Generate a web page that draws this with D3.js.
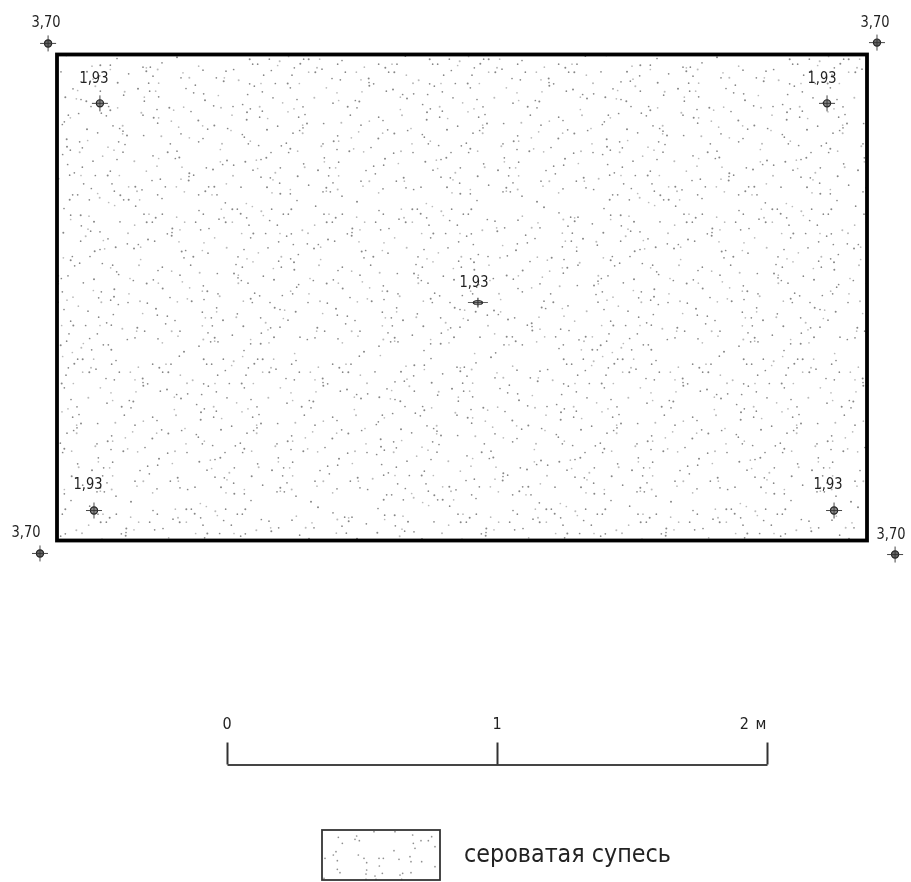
<!DOCTYPE html>
<html><head><meta charset="utf-8">
<script src="https://cdnjs.cloudflare.com/ajax/libs/d3/7.9.0/d3.min.js"></script>
<style>html,body{margin:0;background:#fff}svg{display:block}
text{font-family:"Liberation Sans Narrow","DejaVu Sans Condensed",sans-serif;fill:#222}</style>
</head><body><div id="c"></div>
<script>
// Site plan, metres from the top-left corner of the pit
const pitSize = [3, 1.8];
const outerX = [-0.033, 3.037, -0.063, 3.104];
const outerY = [-0.041, -0.044, 1.848, 1.852];
const outerLevel = ["3,70", "3,70", "3,70", "3,70"];
const innerX = [0.159, 2.852, 1.559, 0.137, 2.878];
const innerY = [0.181, 0.181, 0.919, 1.689, 1.689];
const innerLevel = ["1,93", "1,93", "1,93", "1,93", "1,93"];
const scaleTicks = [0, 1, 2];
const scaleLabels = ["0", "1", "2 м"];
const legendLabel = "сероватая супесь";

// Stipple read from a sample of the soil hatch (crop units)
const specks = [[38,14],[97,14],[155,6],[200,14],[215,14],[248,14],[315,18],[505,5],[128,20],[47,29],[62,29],[122,33],[190,28],[302,29],[382,38],[425,29],[445,40],[465,29],[480,29],[172,40],[240,40],[255,44],[103,48],[215,53],[235,53],[325,53],[358,53],[455,53],[472,53],[508,62],[80,62],[165,62],[5,77],[285,72],[310,76],[372,76],[395,72],[38,88],[72,87],[115,87],[152,87],[187,87],[396,84],[410,88],[528,86],[52,95],[160,100],[268,100],[397,94],[76,112],[375,112],[448,110],[468,105],[300,115],[32,120],[108,130],[232,130],[180,135],[497,120],[490,128],[510,132],[530,118],[305,138],[355,138],[367,141],[137,145],[288,146],[17,150],[68,157],[198,157],[40,163],[171,163],[332,157],[360,160],[490,165],[76,170],[30,173],[153,172],[204,180],[340,182],[495,182],[68,188],[185,188],[92,192],[29,196],[425,188],[397,200],[438,198],[210,207],[197,212],[122,215],[260,207],[313,205],[372,212],[198,220],[522,222],[90,226],[188,228],[365,232],[452,226],[472,237],[437,236],[512,228],[168,236],[197,236],[16,240],[22,248],[343,250],[424,252],[302,244],[40,260],[34,268],[290,260],[305,260],[148,266],[258,268],[253,275],[65,273],[133,274],[525,268],[160,283],[155,294],[182,290],[300,285],[337,290],[350,283],[402,279],[470,296],[492,290],[528,294],[102,294],[380,292],[88,310],[72,315],[58,317],[262,310],[25,322],[262,322],[305,323],[200,328],[203,338],[410,335],[440,332],[484,327],[444,313],[130,340],[62,342],[48,347],[243,347],[296,340],[278,340],[387,348],[115,355],[72,368],[100,370],[108,376],[182,365],[275,364],[305,364],[415,358],[500,370],[502,380],[372,380],[478,380],[397,380],[128,386],[288,385],[378,395],[90,398],[12,398],[160,405],[215,392],[268,400],[268,410],[258,412],[280,412],[302,405],[438,403],[507,400],[105,415],[130,418],[160,418],[425,415],[180,438],[360,442],[28,447],[530,405],[315,425]];
const legendSpecks = [[85,52],[97,70],[135,58],[140,48],[148,62],[192,35],[255,35],[308,45],[310,70],[315,85],[333,62],[355,62],[365,50],[375,80],[78,95],[70,105],[145,105],[162,115],[82,122],[170,128],[207,115],[220,115],[267,118],[300,110],[303,125],[252,92],[335,125],[208,138],[170,150],[82,148],[90,158],[168,162],[195,168],[217,160],[270,165],[278,160],[303,158],[375,140],[42,175],[45,115],[275,178],[168,178],[198,178]];

const W = 911, H = 882;
const svg = d3.select("#c").append("svg").attr("width", W).attr("height", H);
const defs = svg.append("defs");
defs.append("filter").attr("id","soft").attr("x","-5%").attr("y","-5%").attr("width","110%").attr("height","110%")
  .append("feGaussianBlur").attr("stdDeviation",0.7);
const root = svg.append("g").attr("filter","url(#soft)");

const x = d3.scaleLinear().domain([0, pitSize[0]]).range([57, 867]);
const y = d3.scaleLinear().domain([0, pitSize[1]]).range([54.5, 540.5]);

// hatch: sample tile repeated in offset rows so seams do not line up
const tileX = d3.scaleLinear().domain([0,540]).range([0,180]);
const tileY = d3.scaleLinear().domain([0,450]).range([0,150]);
defs.append("clipPath").attr("id","pit").append("rect")
  .attr("x",x(0)).attr("y",y(0)).attr("width",x(pitSize[0])-x(0)).attr("height",y(pitSize[1])-y(0));
const hatch = root.append("g").attr("clip-path","url(#pit)");
d3.range(-2,6).forEach(i => d3.range(4).forEach(j => {
  const fx = j%2===1, fy = (i+j)%3===0;
  const ox = x(0) + i*180 + j*67, oy = y(0) + j*150;
  hatch.append("g").selectAll("circle").data(specks).join("circle")
    .attr("cx", d => ox + (fx ? 180 - tileX(d[0]) : tileX(d[0])))
    .attr("cy", d => oy + (fy ? 150 - tileY(d[1]) : tileY(d[1])))
    .attr("r", (d,k) => k%4===0 ? 1.0 : 0.85)
    .attr("fill", "#555").attr("opacity", (d,k) => k%3===2 ? 0.4 : 0.7);
}));

root.append("rect").attr("x",x(0)).attr("y",y(0))
  .attr("width",x(pitSize[0])-x(0)).attr("height",y(pitSize[1])-y(0))
  .attr("fill","none").attr("stroke","#000").attr("stroke-width",3.8);

function marker(g, fill) {
  g.append("circle").attr("r",3.6).attr("fill",fill).attr("stroke","#222").attr("stroke-width",1.2);
  g.append("path").attr("d","M-8,0H8M0,-8V8").attr("stroke","#333").attr("stroke-width",0.9);
}
const outer = outerX.map((v,i)=>({x:v,y:outerY[i],t:outerLevel[i]}));
const inner = innerX.map((v,i)=>({x:v,y:innerY[i],t:innerLevel[i]}));
const outerLabelDx = [-2,-2,-14,-4], outerLabelDy = [-16,-16,-16,-16];
const innerLabelDx = [-6,-5,-4,-6,-6], innerLabelDy = [-20,-20,-16,-22,-22];

root.selectAll("g.o").data(outer).join("g").attr("class","o")
  .attr("transform",d=>`translate(${x(d.x)},${y(d.y)})`)
  .each(function(){ marker(d3.select(this),"#666"); });
root.selectAll("g.i").data(inner).join("g").attr("class","i")
  .attr("transform",(d,i)=>`translate(${x(d.x)},${y(d.y)})`+(i===2?" scale(1.25,.62)":""))
  .each(function(){ marker(d3.select(this),"#888"); });
const label = (data,dx,dy)=>root.append("g").selectAll("text").data(data).join("text")
  .attr("x",(d,i)=>x(d.x)+dx[i]).attr("y",(d,i)=>y(d.y)+dy[i])
  .attr("text-anchor","middle").attr("font-size",16)
  .attr("textLength",29).attr("lengthAdjust","spacingAndGlyphs").text(d=>d.t);
label(outer,outerLabelDx,outerLabelDy);
label(inner,innerLabelDx,innerLabelDy);

// scale bar
const sx = d3.scaleLinear().domain([0,2]).range([227,767]);
const axis = d3.axisTop(sx).tickValues(scaleTicks).tickSize(22).tickSizeOuter(0).tickPadding(14)
  .tickFormat((d,i)=>scaleLabels[i]);
const ag = root.append("g").attr("transform","translate(0,764.5)").call(axis);
ag.select(".domain").attr("stroke","#444").attr("stroke-width",2);
ag.selectAll(".tick line").attr("stroke","#333").attr("stroke-width",2);
ag.selectAll(".tick text").attr("font-size",16).attr("fill","#222")
  .attr("font-family",'"Liberation Sans Narrow","DejaVu Sans Condensed",sans-serif')
  .attr("dx",(d,i)=>i===2?-14:0).attr("letter-spacing",1);

// legend
const lx = d3.scaleLinear().domain([0,450]).range([310,460]);
const ly = d3.scaleLinear().domain([0,186]).range([820,882]);
root.append("g").selectAll("circle").data(legendSpecks).join("circle")
  .attr("cx",d=>lx(d[0])).attr("cy",d=>ly(d[1])).attr("r",0.85).attr("fill","#555").attr("opacity",.65);
root.append("rect").attr("x",322).attr("y",830).attr("width",118).attr("height",50)
  .attr("fill","none").attr("stroke","#333").attr("stroke-width",1.8);
root.append("text").attr("x",464).attr("y",862).attr("font-size",24)
  .attr("textLength",207).attr("lengthAdjust","spacingAndGlyphs").text(legendLabel);
</script></body></html>
